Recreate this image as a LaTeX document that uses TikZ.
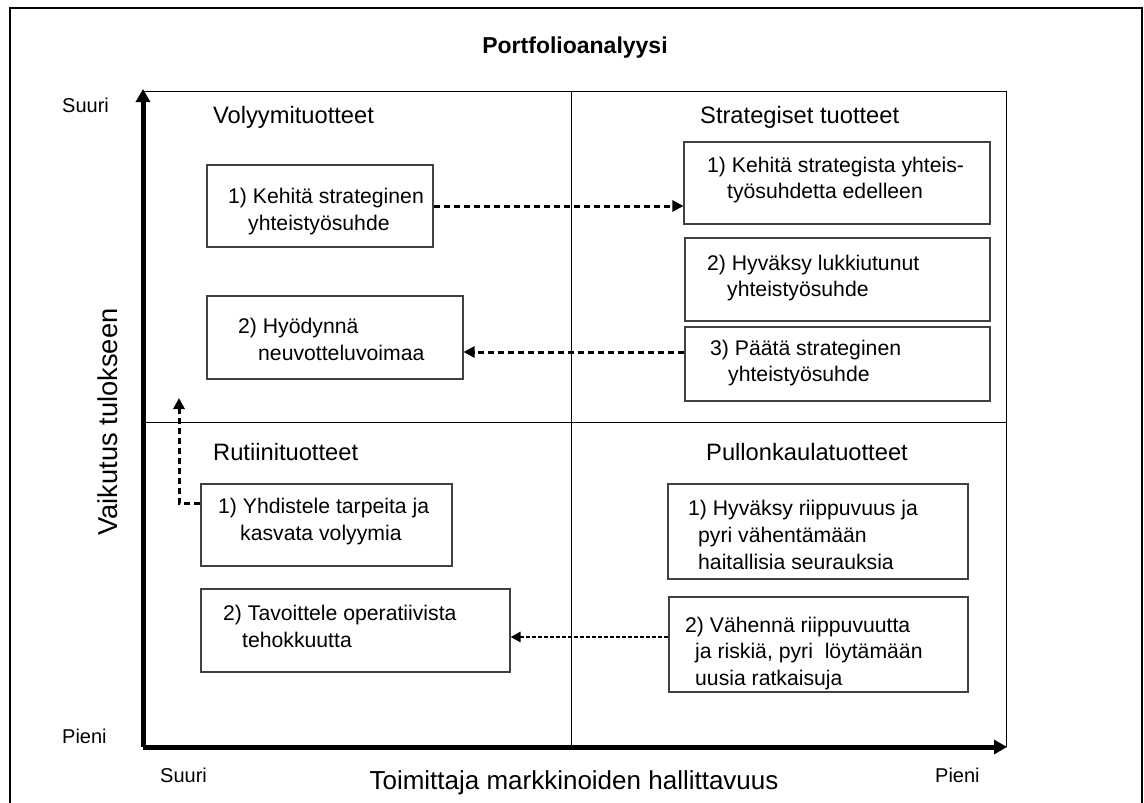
\documentclass[tikz,border=0pt]{standalone}
\usepackage{fontspec}
\setmainfont{Liberation Sans}
\usetikzlibrary{arrows.meta,calc}

\tikzset{
  actbox/.style={draw=black!75, line width=1.1pt, rectangle, inner sep=0pt},
  line/.style={anchor=base west, inner sep=0pt, font=\fontsize{21.2}{25}\selectfont},
  quad/.style={anchor=base west, inner sep=0pt, font=\fontsize{23.7}{28}\selectfont},
  endlbl/.style={anchor=base west, inner sep=0pt, font=\fontsize{20}{24}\selectfont},
  axtitle/.style={inner sep=0pt, font=\fontsize{26}{30}\selectfont},
  grid/.style={line width=1pt, black},
  axis/.style={line width=5pt, -{Triangle[length=13pt,width=14pt]}},
  flow/.style={line width=3pt, dash pattern=on 6.5pt off 3.5pt, -{Triangle[length=11pt,width=11pt]}},
  fineflow/.style={line width=2.6pt, dash pattern=on 4pt off 2pt, -{Triangle[length=10pt,width=10pt]}},
}

\begin{document}
\begin{tikzpicture}[x=1pt, y=-1pt]
\useasboundingbox (0,0) rectangle (1144,803);

% outer frame (open at the bottom edge)
\draw[line width=2.5pt] (10,815) -- (10,8) -- (1142,8) -- (1142,815);

% title
\node[anchor=base, inner sep=0pt, font=\bfseries\fontsize{23}{28}\selectfont] (title) at (575,53) {Portfolioanalyysi};

% quadrant grid
\draw[grid] (143,91) -- (1006,91) -- (1006,747);
\draw[grid] (571,91) -- (571,747);
\draw[grid] (143,422) -- (1006,422);

% axes
\coordinate (origin) at (143,747);
\coordinate (ytop) at (143,89);
\coordinate (xend) at (1007,747);
\draw[axis] (origin) -- (ytop);
\draw[axis] (origin) -- (xend);

% axis labels
\node[endlbl] (ysuuri) at (62,112) {Suuri};
\node[endlbl] (ypieni) at (62,743) {Pieni};
\node[endlbl] (xsuuri) at (160,782) {Suuri};
\node[endlbl] (xpieni) at (935,782) {Pieni};
\node[axtitle, rotate=90, font=\fontsize{27.3}{31}\selectfont] (ytitle) at (108,422) {Vaikutus tulokseen};
\node[axtitle, anchor=base] (xtitle) at (574,789) {Toimittaja markkinoiden hallittavuus};

% quadrant names
\node[quad] (q1) at (213,123) {Volyymituotteet};
\node[quad] (q2) at (700,123) {Strategiset tuotteet};
\node[quad] (q3) at (213,460) {Rutiinituotteet};
\node[quad] (q4) at (706,460) {Pullonkaulatuotteet};

% action boxes
\node[actbox, minimum width=226pt, minimum height=82pt] (A) at (320,206) {};
\node[actbox, minimum width=306pt, minimum height=82pt] (B) at (837,183) {};
\node[actbox, minimum width=305pt, minimum height=83pt] (C) at (837.5,279.5) {};
\node[actbox, minimum width=305pt, minimum height=74pt] (D) at (837.5,364) {};
\node[actbox, minimum width=256pt, minimum height=83pt] (E) at (335,337.5) {};
\node[actbox, minimum width=251pt, minimum height=82pt] (F) at (326.5,525) {};
\node[actbox, minimum width=309pt, minimum height=83pt] (G) at (355.5,630.5) {};
\node[actbox, minimum width=300pt, minimum height=95pt] (H) at (818,531.5) {};
\node[actbox, minimum width=299pt, minimum height=95pt] (I) at (818.5,644.5) {};

% box texts
\node[line] (A1) at (228,203) {1) Kehitä strateginen};
\node[line] (A2) at (248,230) {yhteistyösuhde};
\node[line] (B1) at (707,172) {1) Kehitä strategista yhteis-};
\node[line] (B2) at (727,198) {työsuhdetta edelleen};
\node[line] (C1) at (707,270) {2) Hyväksy lukkiutunut};
\node[line] (C2) at (727,296) {yhteistyösuhde};
\node[line] (D1) at (710,355) {3) Päätä strateginen};
\node[line] (D2) at (728,381) {yhteistyösuhde};
\node[line] (E1) at (238,333) {2) Hyödynnä};
\node[line] (E2) at (258,360) {neuvotteluvoimaa};
\node[line] (F1) at (218,513) {1) Yhdistele tarpeita ja};
\node[line] (F2) at (240,540) {kasvata volyymia};
\node[line] (G1) at (223,620) {2) Tavoittele operatiivista};
\node[line] (G2) at (242,647) {tehokkuutta};
\node[line] (H1) at (688,515) {1) Hyväksy riippuvuus ja};
\node[line] (H2) at (698,542) {pyri vähentämään};
\node[line] (H3) at (698,569) {haitallisia seurauksia};
\node[line] (I1) at (685,632) {2) Vähennä riippuvuutta};
\node[line] (I2) at (695,658) {ja riskiä, pyri\ \ löytämään};
\node[line] (I3) at (695,685) {uusia ratkaisuja};

% connectors
\draw[flow] (A.east) -- (A.east -| B.west);

\coordinate (dfrom) at ($(D.west)+(0,-12)$);
\draw[flow] (dfrom) -- (dfrom -| E.east);

\coordinate (ffrom) at ($(F.west)+(0,-22)$);
\coordinate (fup) at (179,398);
\draw[flow] (ffrom) -| (fup);

\coordinate (ifrom) at ($(I.west)+(0,-7.5)$);
\draw[fineflow] (ifrom) -- (ifrom -| G.east);
\end{tikzpicture}
\end{document}
